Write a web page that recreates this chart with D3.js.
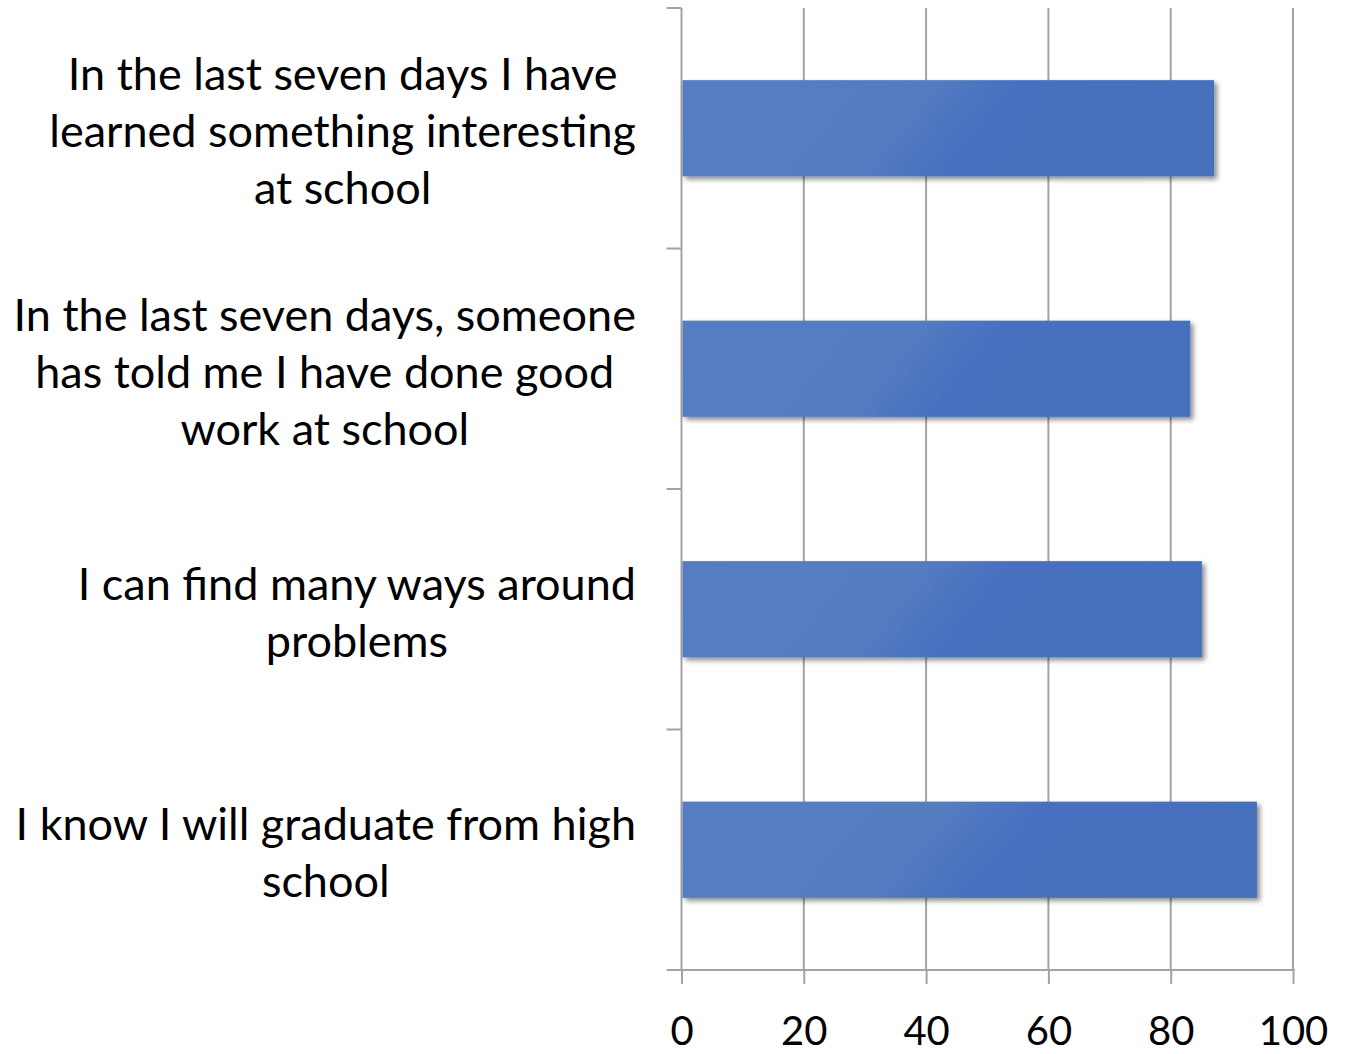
<!DOCTYPE html>
<html>
<head>
<meta charset="utf-8">
<script src="https://cdn.jsdelivr.net/npm/d3@7"></script>
<style>
  html, body { margin: 0; padding: 0; background: #fff; }
  svg { display: block; }
</style>
</head>
<body>
<svg id="chart" width="1353" height="1054"></svg>
<script>
const categories = [
  ["In the last seven days I have", "learned something interesting", "at school"],
  ["In the last seven days, someone", "has told me I have done good", "work at school"],
  ["I can find many ways around", "problems"],
  ["I know I will graduate from high", "school"]
];
const values = [87.1, 83.2, 85.1, 94.1];
const xTicks = [0, 20, 40, 60, 80, 100];

(function () {
const svg = d3.select("#chart");
const pLeft = 681.5, pRight = 1293, pTop = 8, pBottom = 970;
const fontFamily = "Lato, 'Open Sans', sans-serif";

const x = d3.scaleLinear().domain([0, 100]).range([pLeft, pRight]);
const y = d3.scaleBand().domain(d3.range(categories.length)).range([pTop, pBottom]).paddingInner(0.6).paddingOuter(0.3);
const yTicks = d3.scaleBand().domain(d3.range(categories.length)).range([pTop, pBottom]);

const defs = svg.append("defs");
const grad = defs.append("linearGradient").attr("id", "barGrad")
  .attr("x1", "0").attr("y1", "0").attr("x2", "1").attr("y2", "0.15");
[[0, "#567DC1"], [0.45, "#567CC0"], [0.62, "#4771C0"], [1, "#4570BC"]].forEach(([o, c]) =>
  grad.append("stop").attr("offset", o).attr("stop-color", c));
const filt = defs.append("filter").attr("id", "shadow").attr("x", "-5%").attr("y", "-10%").attr("width", "115%").attr("height", "130%");
filt.append("feDropShadow").attr("dx", 3).attr("dy", 3).attr("stdDeviation", 2.5)
  .attr("flood-color", "#000").attr("flood-opacity", 0.45);

// gridlines
svg.append("g").selectAll("line").data(xTicks.slice(1)).join("line")
  .attr("x1", d => x(d)).attr("x2", d => x(d))
  .attr("y1", pTop).attr("y2", pBottom)
  .attr("stroke", "#A3A3A3").attr("stroke-width", 2);

// x axis
const xAxis = svg.append("g").attr("transform", `translate(0,${pBottom})`)
  .call(d3.axisBottom(x).tickValues(xTicks).tickSize(14).tickSizeOuter(0));
xAxis.select(".domain").attr("stroke", "#A3A3A3").attr("stroke-width", 2)
  .attr("d", `M${pLeft - 15},0H${pRight + 2}`);
xAxis.selectAll(".tick line").attr("stroke", "#A3A3A3").attr("stroke-width", 2);
xAxis.selectAll(".tick text").attr("font-family", fontFamily).attr("font-size", 40)
  .attr("fill", "#000").attr("y", 75).attr("dy", "0");

// y axis
const yAxisG = svg.append("g").attr("transform", `translate(${pLeft},0)`);
yAxisG.append("line").attr("x1", 0).attr("x2", 0).attr("y1", pTop).attr("y2", pBottom)
  .attr("stroke", "#A3A3A3").attr("stroke-width", 2);
const tickPos = d3.range(categories.length).map(i => yTicks(i));
yAxisG.selectAll("line.tk").data(tickPos).join("line").attr("class", "tk")
  .attr("x1", -15).attr("x2", 0).attr("y1", d => d).attr("y2", d => d)
  .attr("stroke", "#A3A3A3").attr("stroke-width", 2);

// bars
svg.append("g").selectAll("rect").data(values).join("rect")
  .attr("x", x(0) + 1).attr("y", (d, i) => y(i))
  .attr("width", d => x(d) - x(0) - 1).attr("height", y.bandwidth())
  .attr("fill", "url(#barGrad)").attr("filter", "url(#shadow)");

// category labels
const lineH = 57;
const labels = svg.append("g");
categories.forEach((lines, i) => {
  const cy = y(i) + y.bandwidth() / 2 + 3;
  const g = labels.append("g");
  const texts = g.selectAll("text").data(lines).join("text")
    .attr("font-family", fontFamily).attr("font-size", 45).attr("fill", "#000")
    .attr("text-anchor", "middle")
    .attr("y", (d, j) => cy + (j - (lines.length - 1) / 2) * lineH)
    .attr("dy", "0.36em")
    .text(d => d);
  let maxW = 0;
  texts.each(function () { maxW = Math.max(maxW, this.getComputedTextLength()); });
  texts.attr("x", 636 - maxW / 2);
});
})();
</script>
</body>
</html>
